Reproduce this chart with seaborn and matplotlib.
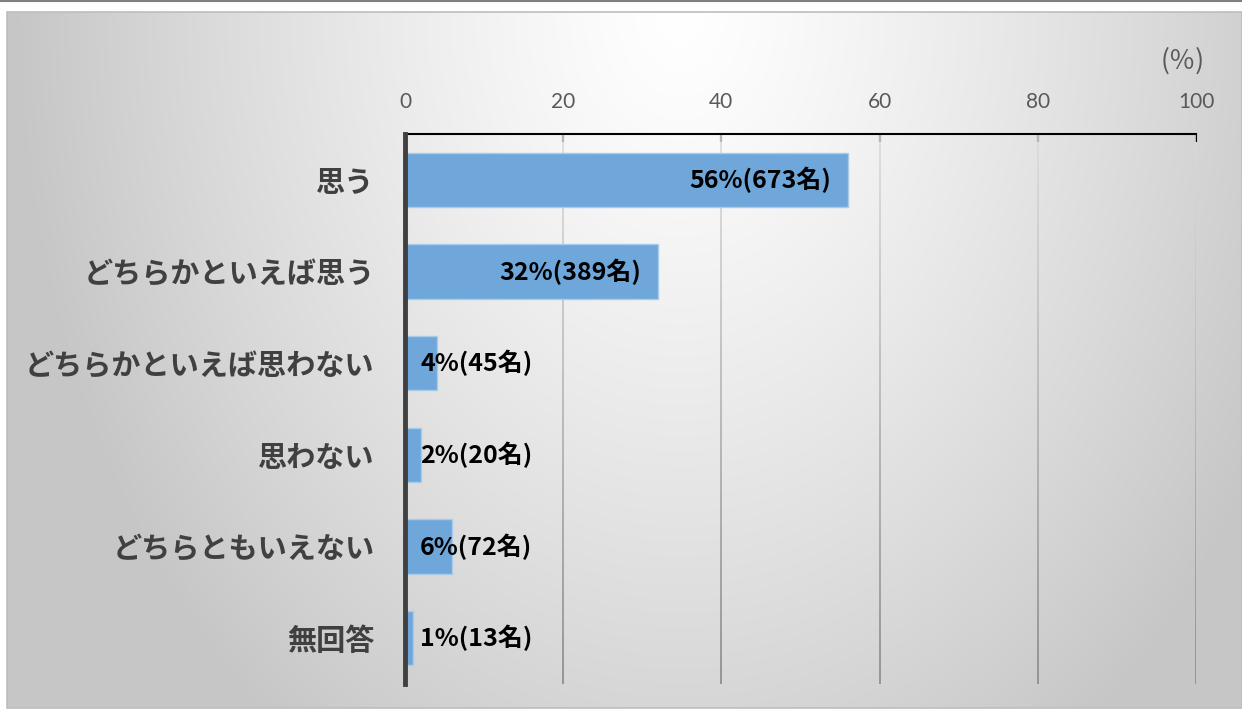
import numpy as np
import pandas as pd
import matplotlib
matplotlib.use("Agg")
import matplotlib.pyplot as plt
import seaborn as sns
from matplotlib.collections import LineCollection
from matplotlib.lines import Line2D
from matplotlib.patches import Rectangle

# Survey answers, share of respondents (%) and head counts
categories = ["思う", "どちらかといえば思う", "どちらかといえば思わない",
              "思わない", "どちらともいえない", "無回答"]
percent = [56, 32, 4, 2, 6, 1]
counts = [673, 389, 45, 20, 72, 13]
x_ticks = [0, 20, 40, 60, 80, 100]

sns.set_theme(style="white")
plt.rcParams["font.family"] = ["Noto Sans CJK JP", "DejaVu Sans"]

W, H = 1242, 709
fig = plt.figure(figsize=(W / 100, H / 100), dpi=100)
fig.patch.set_facecolor("white")

# Soft radial backdrop of the chart panel
px0, py0, px1, py1 = 7, 12, W, 708
bg = fig.add_axes([px0 / W, 1 - py1 / H, (px1 - px0) / W, (py1 - py0) / H])
gx, gy = np.meshgrid(np.arange(px0, px1), np.arange(py0, py1))
r = np.sqrt(((gx - 680) / 660.0) ** 2 + ((gy - 10) / 900.0) ** 2)
shade = 1.0 - (1.0 - 0.78) * np.clip(r, 0, 1) ** 1.25
bg.imshow(np.dstack([shade] * 3), aspect="auto", interpolation="bilinear")
bg.set_axis_off()
bg.set_zorder(-5)

fig.add_artist(Rectangle((px0 / W, 1 - py1 / H), (px1 - px0) / W, (py1 - py0) / H,
                         transform=fig.transFigure, fill=False,
                         edgecolor="#bdbdbd", lw=1.2, zorder=-4))
fig.add_artist(Line2D([0, 1], [1 - 1 / H, 1 - 1 / H], transform=fig.transFigure,
                      color="#7f7f7f", lw=1.5))

# Plot area
left, right, top, bottom = 405, 1196, 134, 684
ax = fig.add_axes([left / W, 1 - bottom / H, (right - left) / W, (bottom - top) / H])
ax.patch.set_alpha(0)

df = pd.DataFrame({"category": categories, "percent": percent})
sns.barplot(data=df, x="percent", y="category", orient="h", color="#6fa7db",
            width=0.59, saturation=1, edgecolor="#a9cbea", linewidth=1.0,
            ax=ax, zorder=2)

ax.set_xlim(0, 100)
ax.set_ylim(len(categories) - 0.5, -0.5)
ax.set_xlabel("")
ax.set_ylabel("")

# Vertical gridlines, fading from light at the top to darker at the bottom
nseg = 60
yy = np.linspace(-0.5, len(categories) - 0.5, nseg + 1)
segs, cols = [], []
for xv in x_ticks[1:]:
    for i in range(nseg):
        segs.append([(xv, yy[i]), (xv, yy[i + 1])])
        t = i / (nseg - 1)
        g = 0.86 - 0.32 * t
        cols.append((g, g, g))
ax.add_collection(LineCollection(segs, colors=cols, linewidths=1.2, zorder=1))

ax.xaxis.tick_top()
ax.set_xticks(x_ticks)
ax.set_xticklabels([str(v) for v in x_ticks], family="Lato")
ax.tick_params(axis="x", direction="in", length=6, width=1.5, color="black",
               labelsize=15, labelcolor="#595959", pad=16, top=True, bottom=False)
ax.tick_params(axis="y", length=0, pad=22, labelsize=21, labelcolor="#404040")
for lab in ax.get_yticklabels():
    lab.set_fontweight("bold")

for s in ["right", "bottom"]:
    ax.spines[s].set_visible(False)
ax.spines["top"].set_color("black")
ax.spines["top"].set_linewidth(1.5)
ax.spines["left"].set_color("#404040")
ax.spines["left"].set_linewidth(3.5)
ax.spines["left"].set_zorder(5)

# Value labels: inside the end for long bars, just past the axis for short ones
for i, (p, c) in enumerate(zip(percent, counts)):
    text = f"{p}%({c}名)"
    if p >= 10:
        ax.text(p - 2.1, i, text, ha="right", va="center", fontsize=18,
                fontweight="bold", color="black", zorder=4)
    else:
        ax.text(1.9, i, text, ha="left", va="center", fontsize=18,
                fontweight="bold", color="black", zorder=4)

fig.text(1183 / W, 1 - 61 / H, "(％)", ha="center", va="center",
         fontsize=19, color="#595959")

fig.savefig("out.png", dpi=100)
